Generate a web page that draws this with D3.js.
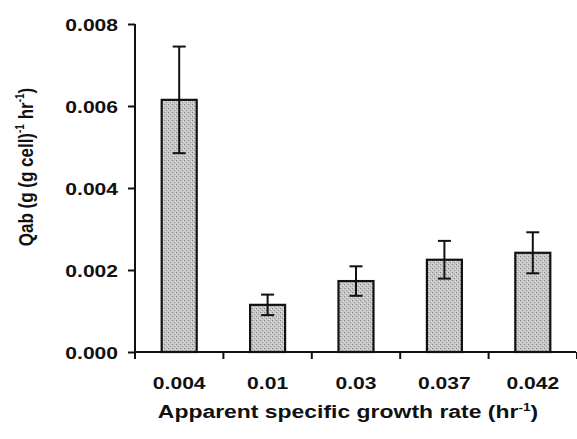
<!DOCTYPE html>
<meta charset="utf-8">
<style>
body { margin: 0; background: #fff; }
svg { display: block; }
text { font-family: Arial, "Liberation Sans", sans-serif; font-weight: bold; fill: #111; }
.axis path, .axis line { stroke: #111; stroke-width: 2; }
</style>
<svg class="chart" width="577" height="439"></svg>
<script src="https://cdn.jsdelivr.net/npm/d3@7"></script>
<script>

// growth rates (x categories), Qab means and error half-widths
var rates = ["0.004", "0.01", "0.03", "0.037", "0.042"];
var qab = [0.00615, 0.00115, 0.00173, 0.00225, 0.00242];
var errs = [0.0013, 0.00025, 0.00036, 0.00046, 0.0005];
var yTicks = [0, 0.002, 0.004, 0.006, 0.008];

var chart = d3.select(".chart");

// plot edges (note: "top" is taken by window.top)
var plotLeft = 135, plotRight = 577, plotTop = 24, plotBottom = 352;
// the scan is stretched sideways, so text is widened a bit
var stretch = 1.24;

var x = d3.scaleBand()
  .domain(rates)
  .range([plotLeft, plotRight])
  .paddingInner(0.6)
  .paddingOuter(0.3);

// band boundaries for the x ticks
var step = (plotRight - plotLeft) / rates.length;

var y = d3.scaleLinear()
  .domain([0, 0.008])
  .range([plotBottom, plotTop]);

// stippled grey fill like the scanned bars
var defs = chart.append("defs");
var pat = defs.append("pattern")
  .attr("id", "stipple")
  .attr("width", 4)
  .attr("height", 4)
  .attr("patternUnits", "userSpaceOnUse");
pat.append("rect").attr("width", 4).attr("height", 4).attr("fill", "#c6c6c6");
pat.append("rect").attr("x", 0).attr("y", 0).attr("width", 1).attr("height", 1).attr("fill", "#858585");
pat.append("rect").attr("x", 2).attr("y", 2).attr("width", 1).attr("height", 1).attr("fill", "#939393");
pat.append("rect").attr("x", 3).attr("y", 1).attr("width", 1).attr("height", 1).attr("fill", "#e4e4e4");
pat.append("rect").attr("x", 1).attr("y", 3).attr("width", 1).attr("height", 1).attr("fill", "#e0e0e0");

// bars
var bw = 35;
var groups = chart.selectAll("g.bar")
  .data(rates)
  .enter().append("g")
  .attr("class", "bar");

groups.append("rect")
  .attr("x", function(d) { return x(d) + x.bandwidth() / 2 - bw / 2; })
  .attr("y", function(d, i) { return y(qab[i]); })
  .attr("width", bw)
  .attr("height", function(d, i) { return y(0) - y(qab[i]); })
  .attr("fill", "url(#stipple)")
  .attr("stroke", "#111")
  .attr("stroke-width", 2.2);

// error bars
groups.each(function(d, i) {
  var cx = x(d) + x.bandwidth() / 2;
  var g = d3.select(this);
  g.append("line")
    .attr("x1", cx).attr("x2", cx)
    .attr("y1", y(qab[i] + errs[i])).attr("y2", y(qab[i] - errs[i]))
    .attr("stroke", "#111").attr("stroke-width", 2);
  [qab[i] + errs[i], qab[i] - errs[i]].forEach(function(v) {
    g.append("line")
      .attr("x1", cx - 6.5).attr("x2", cx + 6.5)
      .attr("y1", y(v)).attr("y2", y(v))
      .attr("stroke", "#111").attr("stroke-width", 2);
  });
});

// y axis
var yAxis = chart.append("g")
  .attr("class", "axis")
  .attr("transform", "translate(" + plotLeft + ",0)")
  .call(d3.axisLeft(y).tickValues(yTicks).tickFormat(d3.format(".3f")).tickSize(7));
yAxis.selectAll("text")
  .attr("x", -17 / stretch)
  .attr("dy", "0.36em")
  .attr("transform", "scale(" + stretch + ",1)")
  .style("font-size", "17px")
  .style("font-family", "Arial, 'Liberation Sans', sans-serif");
yAxis.select(".domain").attr("d", "M0," + plotTop + "V" + plotBottom);

// x axis: line plus ticks at the band boundaries
var xAxis = chart.append("g")
  .attr("class", "axis")
  .attr("transform", "translate(0," + plotBottom + ")");
xAxis.append("line")
  .attr("x1", plotLeft).attr("x2", plotRight - 1)
  .attr("y1", 0).attr("y2", 0);
xAxis.selectAll("line.tick")
  .data(d3.range(rates.length + 1))
  .enter().append("line")
  .attr("class", "tick")
  .attr("x1", function(i) { return plotLeft + step * i; })
  .attr("x2", function(i) { return plotLeft + step * i; })
  .attr("y1", 0).attr("y2", 7);
xAxis.selectAll("text")
  .data(rates)
  .enter().append("text")
  .attr("transform", function(d) {
    return "translate(" + (x(d) + x.bandwidth() / 2) + ",37) scale(" + stretch + ",1)";
  })
  .attr("text-anchor", "middle")
  .style("font-size", "17px")
  .text(function(d) { return d; });

// axis titles
var xt = chart.append("text")
  .attr("transform", "translate(348,418) scale(" + stretch + ",1)")
  .attr("text-anchor", "middle")
  .style("font-size", "18.5px");
xt.append("tspan").text("Apparent specific growth rate (hr");
xt.append("tspan").attr("dy", -7).style("font-size", "11px").text("-1");
xt.append("tspan").attr("dy", 7).text(")");

// rotated title: the sideways stretch shows up as thicker glyphs here
var yt = chart.append("text")
  .attr("transform", "translate(33,167) rotate(-90) scale(1," + stretch + ")")
  .attr("text-anchor", "middle")
  .style("font-size", "17px");
yt.append("tspan").text("Qab (g (g cell)");
yt.append("tspan").attr("dy", -7).style("font-size", "10px").text("-1");
yt.append("tspan").attr("dy", 7).text(" hr");
yt.append("tspan").attr("dy", -7).style("font-size", "10px").text("-1");
yt.append("tspan").attr("dy", 7).text(")");

</script>
